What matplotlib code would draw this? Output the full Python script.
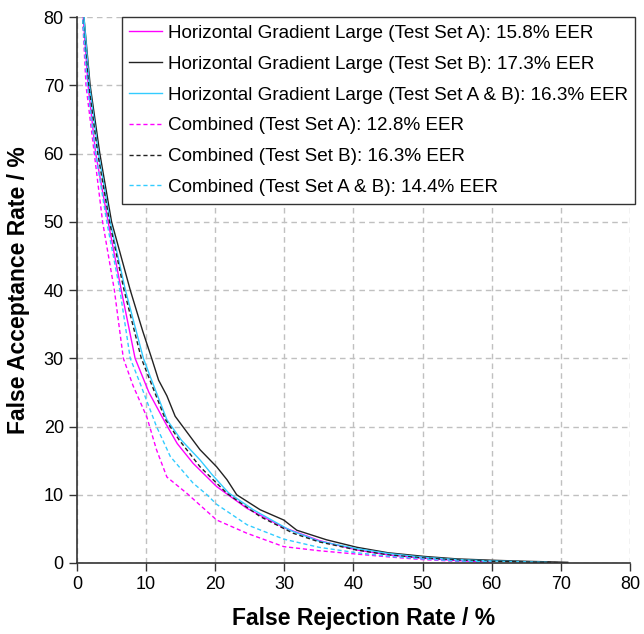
import matplotlib
matplotlib.use("Agg")
import matplotlib.pyplot as plt

plt.rcParams["font.family"] = ["Liberation Sans", "DejaVu Sans"]

# Horizontal Gradient Large (Test Set A)
hgl_a_frr = [0.3, 0.9, 1.6, 2.7, 4.5, 6.4, 8.4, 10.4, 12.8, 14.5, 16.8, 20.2, 24.6, 29.9, 35, 40.5, 45, 50, 55, 58, 60]
hgl_a_far = [95, 80, 70, 60, 50, 40, 30, 25, 20.5, 17.5, 14.6, 11.2, 8.0, 5.2, 3.3, 1.9, 1.2, 0.7, 0.35, 0.2, 0.1]

# Horizontal Gradient Large (Test Set B)
hgl_b_frr = [0.3, 1.0, 1.9, 3.3, 5.0, 7.7, 9.5, 10.8, 11.8, 13.0, 14.2, 16.4, 17.8, 20.2, 21.7, 23.1, 26.5, 29.9,
             31.8, 36.1, 40.5, 45, 50.4, 55, 60.2, 65, 71]
hgl_b_far = [95, 80, 70, 60, 50, 40, 34, 30, 26.8, 24.5, 21.5, 18.5, 16.6, 14.1, 12.2, 10.0, 7.8, 6.3,
             4.8, 3.4, 2.3, 1.5, 0.95, 0.6, 0.4, 0.25, 0.1]

# Horizontal Gradient Large (Test Set A & B)
hgl_ab_frr = [0.3, 1.0, 1.8, 3.1, 4.8, 7.0, 9.6, 10.6, 13.0, 15.1, 17.8, 19.5, 21.9, 25.5, 30.8, 35, 40.5, 45, 50, 55, 60, 68]
hgl_ab_far = [95, 80, 70, 60, 50, 40, 30, 27.3, 21, 18, 15.1, 13, 10.3, 7.8, 4.8, 3.2, 2.1, 1.4, 0.85, 0.5, 0.3, 0.1]

# Combined (Test Set A)
comb_a_frr = [0.3, 0.8, 1.3, 2.5, 3.7, 5.4, 6.7, 8.1, 10.1, 11.5, 13.0, 15.9, 20.2, 24.6, 29.9, 35, 40.5, 45, 50, 55, 58]
comb_a_far = [95, 80, 70, 60, 50, 40, 30, 26, 21.4, 16.6, 12.6, 10.2, 6.3, 4.35, 2.4, 1.8, 1.3, 0.9, 0.5, 0.25, 0.15]

# Combined (Test Set B)
comb_b_frr = [0.3, 0.8, 1.7, 3.0, 4.7, 6.8, 9.3, 12.8, 14.8, 17.8, 21.7, 26.5, 31.3, 35, 40.5, 45, 50, 55, 60, 65, 70]
comb_b_far = [95, 80, 70, 60, 50, 40, 30, 21, 18, 14.1, 10.2, 6.8, 4.35, 3.1, 1.9, 1.2, 0.75, 0.45, 0.25, 0.15, 0.05]

# Combined (Test Set A & B)
comb_ab_frr = [0.3, 0.8, 1.5, 2.7, 4.3, 6.2, 7.7, 9.1, 11.5, 13.5, 16.8, 18.8, 20.2, 24.6, 29.9, 35, 40.5, 45, 50, 55, 60]
comb_ab_far = [95, 80, 70, 60, 50, 40, 30, 26.4, 20, 15.6, 11.7, 10.0, 8.6, 5.6, 3.5, 2.3, 1.5, 1.0, 0.6, 0.3, 0.15]

labels = [
    "Horizontal Gradient Large (Test Set A): 15.8% EER",
    "Horizontal Gradient Large (Test Set B): 17.3% EER",
    "Horizontal Gradient Large (Test Set A & B): 16.3% EER",
    "Combined (Test Set A): 12.8% EER",
    "Combined (Test Set B): 16.3% EER",
    "Combined (Test Set A & B): 14.4% EER",
]

MAGENTA = "#ff00ff"
BLACK = "#222222"
CYAN = "#33ccff"

fig = plt.figure(figsize=(6.44, 6.34), dpi=100)
ax = fig.add_axes([0.1196, 0.112, 0.8586, 0.861])

series = [
    (hgl_a_frr, hgl_a_far, MAGENTA, "-"),
    (hgl_b_frr, hgl_b_far, BLACK, "-"),
    (hgl_ab_frr, hgl_ab_far, CYAN, "-"),
    (comb_a_frr, comb_a_far, MAGENTA, (0, (3, 2))),
    (comb_b_frr, comb_b_far, BLACK, (0, (3, 2))),
    (comb_ab_frr, comb_ab_far, CYAN, (0, (3, 2))),
]
for (x, y, c, ls), lab in zip(series, labels):
    ax.plot(x, y, color=c, ls=ls, lw=1.0, label=lab)

ax.set_xlim(0, 80)
ax.set_ylim(0, 80)
ax.set_xticks(range(0, 81, 10))
ax.set_yticks(range(0, 81, 10))
ax.grid(True, color="#c0c0c0", ls=(0, (4, 3)), lw=1)
ax.set_axisbelow(True)
for s in ["top", "right"]:
    ax.spines[s].set_visible(False)
for s in ["left", "bottom"]:
    ax.spines[s].set_color("#333333")
    ax.spines[s].set_linewidth(1.2)
ax.tick_params(direction="out", length=6, width=1, colors="#333333", labelcolor="black",
               labelsize=13)

ax.set_xlabel("False Rejection Rate / %", fontsize=16.5, fontweight="bold")
ax.set_ylabel("False Acceptance Rate / %", fontsize=16.5, fontweight="bold", labelpad=10)
ax.xaxis.set_label_coords(0.519, -0.080)

leg = ax.legend(loc="upper right", bbox_to_anchor=(1.01, 1.0), fontsize=13.6, frameon=True,
                fancybox=False, handlelength=1.75, borderpad=0.4, labelspacing=0.72,
                handletextpad=0.3, borderaxespad=0)
leg.get_frame().set_edgecolor("#333333")
leg.get_frame().set_linewidth(1)
leg.get_frame().set_alpha(1)

fig.savefig("out.png", dpi=100)
